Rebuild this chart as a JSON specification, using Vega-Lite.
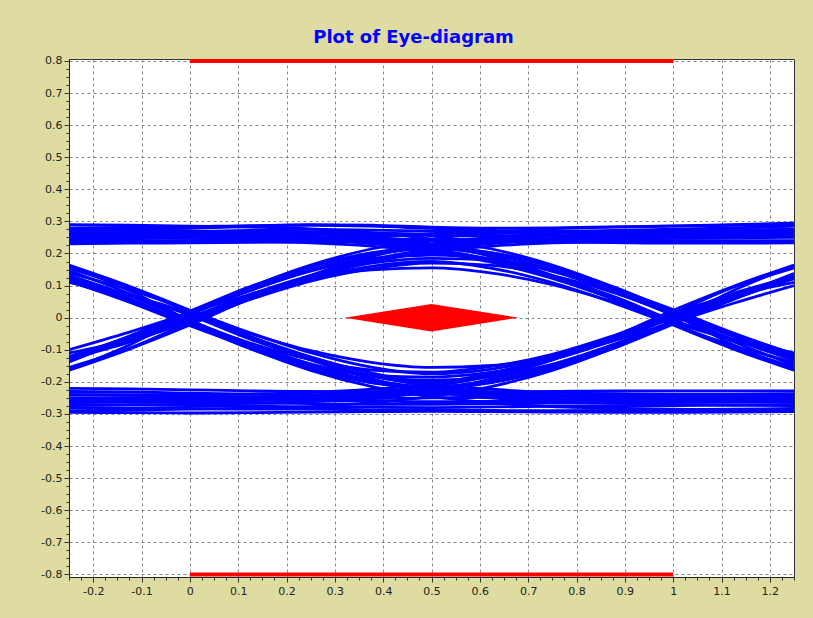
{
"$schema": "https://vega.github.io/schema/vega-lite/v6.json",
"width": 725, "height": 518,
"autosize": "none",
"padding": {"left": 69, "top": 59, "right": 19, "bottom": 41},
"background": "#DEDCA0",
"title": {"text": "Plot of Eye-diagram", "fontSize": 18, "fontWeight": "bold", "color": "#0000FF", "font": "DejaVu Sans", "offset": 8, "dx": -18},
"config": {
  "view": {"fill": "#FFFFFF", "stroke": "#333333", "strokeWidth": 1},
  "axis": {"labelFont": "DejaVu Sans", "labelFontSize": 11, "labelColor": "#222222", "domainColor": "#222222", "tickColor": "#333333", "gridColor": "#8a8a8a", "gridDash": [3, 3], "gridWidth": 1, "title": null}
},
"datasets": {
"traces": [
{"s":"h1","x":-0.25,"y":0.235},{"s":"h1","x":-0.125,"y":0.237},{"s":"h1","x":0,"y":0.24},{"s":"h1","x":0.125,"y":0.242},{"s":"h1","x":0.25,"y":0.243},{"s":"h1","x":0.375,"y":0.244},{"s":"h1","x":0.5,"y":0.245},{"s":"h1","x":0.625,"y":0.244},{"s":"h1","x":0.75,"y":0.243},{"s":"h1","x":0.875,"y":0.242},{"s":"h1","x":1,"y":0.24},{"s":"h1","x":1.125,"y":0.238},{"s":"h1","x":1.25,"y":0.236},
{"s":"h2","x":-0.25,"y":0.25},{"s":"h2","x":-0.125,"y":0.252},{"s":"h2","x":0,"y":0.255},{"s":"h2","x":0.125,"y":0.258},{"s":"h2","x":0.25,"y":0.26},{"s":"h2","x":0.375,"y":0.259},{"s":"h2","x":0.5,"y":0.256},{"s":"h2","x":0.625,"y":0.255},{"s":"h2","x":0.75,"y":0.255},{"s":"h2","x":0.875,"y":0.256},{"s":"h2","x":1,"y":0.258},{"s":"h2","x":1.125,"y":0.259},{"s":"h2","x":1.25,"y":0.26},
{"s":"h3","x":-0.25,"y":0.265},{"s":"h3","x":-0.125,"y":0.266},{"s":"h3","x":0,"y":0.268},{"s":"h3","x":0.125,"y":0.272},{"s":"h3","x":0.25,"y":0.275},{"s":"h3","x":0.375,"y":0.273},{"s":"h3","x":0.5,"y":0.27},{"s":"h3","x":0.625,"y":0.268},{"s":"h3","x":0.75,"y":0.268},{"s":"h3","x":0.875,"y":0.27},{"s":"h3","x":1,"y":0.272},{"s":"h3","x":1.125,"y":0.274},{"s":"h3","x":1.25,"y":0.275},
{"s":"h4","x":-0.25,"y":0.272},{"s":"h4","x":-0.125,"y":0.274},{"s":"h4","x":0,"y":0.278},{"s":"h4","x":0.125,"y":0.285},{"s":"h4","x":0.25,"y":0.29},{"s":"h4","x":0.375,"y":0.288},{"s":"h4","x":0.5,"y":0.282},{"s":"h4","x":0.625,"y":0.279},{"s":"h4","x":0.75,"y":0.28},{"s":"h4","x":0.875,"y":0.283},{"s":"h4","x":1,"y":0.286},{"s":"h4","x":1.125,"y":0.29},{"s":"h4","x":1.25,"y":0.295},
{"s":"h5","x":-0.25,"y":0.245},{"s":"h5","x":-0.125,"y":0.246},{"s":"h5","x":0,"y":0.25},{"s":"h5","x":0.125,"y":0.25},{"s":"h5","x":0.25,"y":0.248},{"s":"h5","x":0.375,"y":0.25},{"s":"h5","x":0.5,"y":0.262},{"s":"h5","x":0.625,"y":0.268},{"s":"h5","x":0.75,"y":0.27},{"s":"h5","x":0.875,"y":0.268},{"s":"h5","x":1,"y":0.265},{"s":"h5","x":1.125,"y":0.262},{"s":"h5","x":1.25,"y":0.26},
{"s":"h6","x":-0.25,"y":0.23},{"s":"h6","x":-0.125,"y":0.232},{"s":"h6","x":0,"y":0.233},{"s":"h6","x":0.125,"y":0.235},{"s":"h6","x":0.25,"y":0.236},{"s":"h6","x":0.375,"y":0.238},{"s":"h6","x":0.5,"y":0.24},{"s":"h6","x":0.625,"y":0.238},{"s":"h6","x":0.75,"y":0.236},{"s":"h6","x":0.875,"y":0.234},{"s":"h6","x":1,"y":0.232},{"s":"h6","x":1.125,"y":0.232},{"s":"h6","x":1.25,"y":0.233},
{"s":"h7","x":-0.25,"y":0.28},{"s":"h7","x":-0.125,"y":0.281},{"s":"h7","x":0,"y":0.283},{"s":"h7","x":0.125,"y":0.287},{"s":"h7","x":0.25,"y":0.288},{"s":"h7","x":0.375,"y":0.285},{"s":"h7","x":0.5,"y":0.278},{"s":"h7","x":0.625,"y":0.272},{"s":"h7","x":0.75,"y":0.27},{"s":"h7","x":0.875,"y":0.272},{"s":"h7","x":1,"y":0.276},{"s":"h7","x":1.125,"y":0.28},{"s":"h7","x":1.25,"y":0.285},
{"s":"h8","x":-0.25,"y":0.258},{"s":"h8","x":-0.125,"y":0.26},{"s":"h8","x":0,"y":0.262},{"s":"h8","x":0.125,"y":0.265},{"s":"h8","x":0.25,"y":0.267},{"s":"h8","x":0.375,"y":0.264},{"s":"h8","x":0.5,"y":0.26},{"s":"h8","x":0.625,"y":0.262},{"s":"h8","x":0.75,"y":0.265},{"s":"h8","x":0.875,"y":0.266},{"s":"h8","x":1,"y":0.265},{"s":"h8","x":1.125,"y":0.266},{"s":"h8","x":1.25,"y":0.268},
{"s":"l1","x":-0.25,"y":-0.22},{"s":"l1","x":-0.125,"y":-0.222},{"s":"l1","x":0,"y":-0.225},{"s":"l1","x":0.125,"y":-0.228},{"s":"l1","x":0.25,"y":-0.23},{"s":"l1","x":0.375,"y":-0.232},{"s":"l1","x":0.5,"y":-0.233},{"s":"l1","x":0.625,"y":-0.232},{"s":"l1","x":0.75,"y":-0.23},{"s":"l1","x":0.875,"y":-0.228},{"s":"l1","x":1,"y":-0.228},{"s":"l1","x":1.125,"y":-0.228},{"s":"l1","x":1.25,"y":-0.228},
{"s":"l2","x":-0.25,"y":-0.24},{"s":"l2","x":-0.125,"y":-0.242},{"s":"l2","x":0,"y":-0.245},{"s":"l2","x":0.125,"y":-0.248},{"s":"l2","x":0.25,"y":-0.25},{"s":"l2","x":0.375,"y":-0.252},{"s":"l2","x":0.5,"y":-0.25},{"s":"l2","x":0.625,"y":-0.248},{"s":"l2","x":0.75,"y":-0.246},{"s":"l2","x":0.875,"y":-0.245},{"s":"l2","x":1,"y":-0.245},{"s":"l2","x":1.125,"y":-0.246},{"s":"l2","x":1.25,"y":-0.247},
{"s":"l3","x":-0.25,"y":-0.26},{"s":"l3","x":-0.125,"y":-0.262},{"s":"l3","x":0,"y":-0.265},{"s":"l3","x":0.125,"y":-0.266},{"s":"l3","x":0.25,"y":-0.268},{"s":"l3","x":0.375,"y":-0.27},{"s":"l3","x":0.5,"y":-0.27},{"s":"l3","x":0.625,"y":-0.268},{"s":"l3","x":0.75,"y":-0.266},{"s":"l3","x":0.875,"y":-0.264},{"s":"l3","x":1,"y":-0.262},{"s":"l3","x":1.125,"y":-0.262},{"s":"l3","x":1.25,"y":-0.263},
{"s":"l4","x":-0.25,"y":-0.28},{"s":"l4","x":-0.125,"y":-0.282},{"s":"l4","x":0,"y":-0.283},{"s":"l4","x":0.125,"y":-0.285},{"s":"l4","x":0.25,"y":-0.285},{"s":"l4","x":0.375,"y":-0.287},{"s":"l4","x":0.5,"y":-0.288},{"s":"l4","x":0.625,"y":-0.289},{"s":"l4","x":0.75,"y":-0.29},{"s":"l4","x":0.875,"y":-0.289},{"s":"l4","x":1,"y":-0.287},{"s":"l4","x":1.125,"y":-0.285},{"s":"l4","x":1.25,"y":-0.283},
{"s":"l5","x":-0.25,"y":-0.295},{"s":"l5","x":-0.125,"y":-0.296},{"s":"l5","x":0,"y":-0.297},{"s":"l5","x":0.125,"y":-0.296},{"s":"l5","x":0.25,"y":-0.294},{"s":"l5","x":0.375,"y":-0.293},{"s":"l5","x":0.5,"y":-0.292},{"s":"l5","x":0.625,"y":-0.293},{"s":"l5","x":0.75,"y":-0.294},{"s":"l5","x":0.875,"y":-0.295},{"s":"l5","x":1,"y":-0.295},{"s":"l5","x":1.125,"y":-0.294},{"s":"l5","x":1.25,"y":-0.293},
{"s":"l6","x":-0.25,"y":-0.23},{"s":"l6","x":-0.125,"y":-0.231},{"s":"l6","x":0,"y":-0.235},{"s":"l6","x":0.125,"y":-0.238},{"s":"l6","x":0.25,"y":-0.24},{"s":"l6","x":0.375,"y":-0.24},{"s":"l6","x":0.5,"y":-0.238},{"s":"l6","x":0.625,"y":-0.236},{"s":"l6","x":0.75,"y":-0.236},{"s":"l6","x":0.875,"y":-0.237},{"s":"l6","x":1,"y":-0.238},{"s":"l6","x":1.125,"y":-0.238},{"s":"l6","x":1.25,"y":-0.237},
{"s":"l7","x":-0.25,"y":-0.25},{"s":"l7","x":-0.125,"y":-0.252},{"s":"l7","x":0,"y":-0.255},{"s":"l7","x":0.125,"y":-0.256},{"s":"l7","x":0.25,"y":-0.258},{"s":"l7","x":0.375,"y":-0.26},{"s":"l7","x":0.5,"y":-0.262},{"s":"l7","x":0.625,"y":-0.26},{"s":"l7","x":0.75,"y":-0.257},{"s":"l7","x":0.875,"y":-0.255},{"s":"l7","x":1,"y":-0.254},{"s":"l7","x":1.125,"y":-0.254},{"s":"l7","x":1.25,"y":-0.255},
{"s":"l8","x":-0.25,"y":-0.27},{"s":"l8","x":-0.125,"y":-0.272},{"s":"l8","x":0,"y":-0.274},{"s":"l8","x":0.125,"y":-0.276},{"s":"l8","x":0.25,"y":-0.278},{"s":"l8","x":0.375,"y":-0.279},{"s":"l8","x":0.5,"y":-0.28},{"s":"l8","x":0.625,"y":-0.278},{"s":"l8","x":0.75,"y":-0.276},{"s":"l8","x":0.875,"y":-0.275},{"s":"l8","x":1,"y":-0.274},{"s":"l8","x":1.125,"y":-0.273},{"s":"l8","x":1.25,"y":-0.272},
{"s":"u1","x":-0.25,"y":-0.1},{"s":"u1","x":-0.125,"y":-0.045},{"s":"u1","x":0,"y":0.015},{"s":"u1","x":0.125,"y":0.073},{"s":"u1","x":0.25,"y":0.12},{"s":"u1","x":0.375,"y":0.149},{"s":"u1","x":0.5,"y":0.155},{"s":"u1","x":0.625,"y":0.139},{"s":"u1","x":0.75,"y":0.103},{"s":"u1","x":0.875,"y":0.05},{"s":"u1","x":1,"y":-0.01},{"s":"u1","x":1.125,"y":-0.068},{"s":"u1","x":1.25,"y":-0.117},
{"s":"u2","x":-0.25,"y":-0.128},{"s":"u2","x":-0.125,"y":-0.076},{"s":"u2","x":0,"y":-0.009},{"s":"u2","x":0.125,"y":0.057},{"s":"u2","x":0.25,"y":0.114},{"s":"u2","x":0.375,"y":0.152},{"s":"u2","x":0.5,"y":0.17},{"s":"u2","x":0.625,"y":0.163},{"s":"u2","x":0.75,"y":0.131},{"s":"u2","x":0.875,"y":0.079},{"s":"u2","x":1,"y":0.012},{"s":"u2","x":1.125,"y":-0.054},{"s":"u2","x":1.25,"y":-0.112},
{"s":"u3","x":-0.25,"y":-0.128},{"s":"u3","x":-0.125,"y":-0.066},{"s":"u3","x":0,"y":0.001},{"s":"u3","x":0.125,"y":0.072},{"s":"u3","x":0.25,"y":0.131},{"s":"u3","x":0.375,"y":0.17},{"s":"u3","x":0.5,"y":0.185},{"s":"u3","x":0.625,"y":0.18},{"s":"u3","x":0.75,"y":0.148},{"s":"u3","x":0.875,"y":0.092},{"s":"u3","x":1,"y":0.025},{"s":"u3","x":1.125,"y":-0.048},{"s":"u3","x":1.25,"y":-0.114},
{"s":"u4","x":-0.25,"y":-0.155},{"s":"u4","x":-0.125,"y":-0.095},{"s":"u4","x":0,"y":-0.014},{"s":"u4","x":0.125,"y":0.062},{"s":"u4","x":0.25,"y":0.131},{"s":"u4","x":0.375,"y":0.178},{"s":"u4","x":0.5,"y":0.2},{"s":"u4","x":0.625,"y":0.179},{"s":"u4","x":0.75,"y":0.131},{"s":"u4","x":0.875,"y":0.063},{"s":"u4","x":1,"y":-0.019},{"s":"u4","x":1.125,"y":-0.093},{"s":"u4","x":1.25,"y":-0.154},
{"s":"u5","x":-0.25,"y":-0.138},{"s":"u5","x":-0.125,"y":-0.064},{"s":"u5","x":0,"y":0.014},{"s":"u5","x":0.125,"y":0.093},{"s":"u5","x":0.25,"y":0.159},{"s":"u5","x":0.375,"y":0.201},{"s":"u5","x":0.5,"y":0.215},{"s":"u5","x":0.625,"y":0.202},{"s":"u5","x":0.75,"y":0.159},{"s":"u5","x":0.875,"y":0.09},{"s":"u5","x":1,"y":0.008},{"s":"u5","x":1.125,"y":-0.075},{"s":"u5","x":1.25,"y":-0.147},
{"s":"u6","x":-0.25,"y":-0.128},{"s":"u6","x":-0.125,"y":-0.072},{"s":"u6","x":0,"y":-0.005},{"s":"u6","x":0.125,"y":0.062},{"s":"u6","x":0.25,"y":0.121},{"s":"u6","x":0.375,"y":0.16},{"s":"u6","x":0.5,"y":0.175},{"s":"u6","x":0.625,"y":0.154},{"s":"u6","x":0.75,"y":0.109},{"s":"u6","x":0.875,"y":0.047},{"s":"u6","x":1,"y":-0.022},{"s":"u6","x":1.125,"y":-0.087},{"s":"u6","x":1.25,"y":-0.139},
{"s":"u7","x":-0.25,"y":-0.131},{"s":"u7","x":-0.125,"y":-0.066},{"s":"u7","x":0,"y":0.01},{"s":"u7","x":0.125,"y":0.084},{"s":"u7","x":0.25,"y":0.145},{"s":"u7","x":0.375,"y":0.184},{"s":"u7","x":0.5,"y":0.195},{"s":"u7","x":0.625,"y":0.183},{"s":"u7","x":0.75,"y":0.144},{"s":"u7","x":0.875,"y":0.082},{"s":"u7","x":1,"y":0.008},{"s":"u7","x":1.125,"y":-0.068},{"s":"u7","x":1.25,"y":-0.132},
{"s":"d1","x":-0.25,"y":0.114},{"s":"d1","x":-0.125,"y":0.048},{"s":"d1","x":0,"y":-0.025},{"s":"d1","x":0.125,"y":-0.092},{"s":"d1","x":0.25,"y":-0.148},{"s":"d1","x":0.375,"y":-0.18},{"s":"d1","x":0.5,"y":-0.185},{"s":"d1","x":0.625,"y":-0.17},{"s":"d1","x":0.75,"y":-0.131},{"s":"d1","x":0.875,"y":-0.072},{"s":"d1","x":1,"y":-0.001},{"s":"d1","x":1.125,"y":0.066},{"s":"d1","x":1.25,"y":0.128},
{"s":"d2","x":-0.25,"y":0.147},{"s":"d2","x":-0.125,"y":0.075},{"s":"d2","x":0,"y":-0.008},{"s":"d2","x":0.125,"y":-0.09},{"s":"d2","x":0.25,"y":-0.159},{"s":"d2","x":0.375,"y":-0.202},{"s":"d2","x":0.5,"y":-0.215},{"s":"d2","x":0.625,"y":-0.201},{"s":"d2","x":0.75,"y":-0.159},{"s":"d2","x":0.875,"y":-0.093},{"s":"d2","x":1,"y":-0.014},{"s":"d2","x":1.125,"y":0.064},{"s":"d2","x":1.25,"y":0.138},
{"s":"d3","x":-0.25,"y":0.117},{"s":"d3","x":-0.125,"y":0.068},{"s":"d3","x":0,"y":0.01},{"s":"d3","x":0.125,"y":-0.05},{"s":"d3","x":0.25,"y":-0.103},{"s":"d3","x":0.375,"y":-0.139},{"s":"d3","x":0.5,"y":-0.155},{"s":"d3","x":0.625,"y":-0.149},{"s":"d3","x":0.75,"y":-0.12},{"s":"d3","x":0.875,"y":-0.073},{"s":"d3","x":1,"y":-0.015},{"s":"d3","x":1.125,"y":0.045},{"s":"d3","x":1.25,"y":0.1},
{"s":"d4","x":-0.25,"y":0.139},{"s":"d4","x":-0.125,"y":0.087},{"s":"d4","x":0,"y":0.022},{"s":"d4","x":0.125,"y":-0.047},{"s":"d4","x":0.25,"y":-0.109},{"s":"d4","x":0.375,"y":-0.154},{"s":"d4","x":0.5,"y":-0.175},{"s":"d4","x":0.625,"y":-0.16},{"s":"d4","x":0.75,"y":-0.121},{"s":"d4","x":0.875,"y":-0.062},{"s":"d4","x":1,"y":0.005},{"s":"d4","x":1.125,"y":0.072},{"s":"d4","x":1.25,"y":0.128},
{"s":"d5","x":-0.25,"y":0.112},{"s":"d5","x":-0.125,"y":0.054},{"s":"d5","x":0,"y":-0.012},{"s":"d5","x":0.125,"y":-0.079},{"s":"d5","x":0.25,"y":-0.131},{"s":"d5","x":0.375,"y":-0.163},{"s":"d5","x":0.5,"y":-0.17},{"s":"d5","x":0.625,"y":-0.152},{"s":"d5","x":0.75,"y":-0.114},{"s":"d5","x":0.875,"y":-0.057},{"s":"d5","x":1,"y":0.009},{"s":"d5","x":1.125,"y":0.076},{"s":"d5","x":1.25,"y":0.128},
{"s":"d6","x":-0.25,"y":0.132},{"s":"d6","x":-0.125,"y":0.068},{"s":"d6","x":0,"y":-0.008},{"s":"d6","x":0.125,"y":-0.082},{"s":"d6","x":0.25,"y":-0.144},{"s":"d6","x":0.375,"y":-0.183},{"s":"d6","x":0.5,"y":-0.195},{"s":"d6","x":0.625,"y":-0.184},{"s":"d6","x":0.75,"y":-0.145},{"s":"d6","x":0.875,"y":-0.084},{"s":"d6","x":1,"y":-0.01},{"s":"d6","x":1.125,"y":0.066},{"s":"d6","x":1.25,"y":0.131},
{"s":"d7","x":-0.25,"y":0.154},{"s":"d7","x":-0.125,"y":0.093},{"s":"d7","x":0,"y":0.019},{"s":"d7","x":0.125,"y":-0.063},{"s":"d7","x":0.25,"y":-0.131},{"s":"d7","x":0.375,"y":-0.179},{"s":"d7","x":0.5,"y":-0.2},{"s":"d7","x":0.625,"y":-0.178},{"s":"d7","x":0.75,"y":-0.131},{"s":"d7","x":0.875,"y":-0.062},{"s":"d7","x":1,"y":0.014},{"s":"d7","x":1.125,"y":0.095},{"s":"d7","x":1.25,"y":0.155},
{"s":"r1","x":-0.25,"y":-0.11},{"s":"r1","x":-0.125,"y":-0.069},{"s":"r1","x":0,"y":-0.015},{"s":"r1","x":0.125,"y":0.058},{"s":"r1","x":0.25,"y":0.122},{"s":"r1","x":0.375,"y":0.172},{"s":"r1","x":0.5,"y":0.206},{"s":"r1","x":0.625,"y":0.223},{"s":"r1","x":0.75,"y":0.233},{"s":"r1","x":0.875,"y":0.238},{"s":"r1","x":1,"y":0.24},{"s":"r1","x":1.125,"y":0.24},{"s":"r1","x":1.25,"y":0.24},
{"s":"r2","x":-0.25,"y":-0.122},{"s":"r2","x":-0.125,"y":-0.059},{"s":"r2","x":0,"y":0.016},{"s":"r2","x":0.125,"y":0.091},{"s":"r2","x":0.25,"y":0.15},{"s":"r2","x":0.375,"y":0.195},{"s":"r2","x":0.5,"y":0.219},{"s":"r2","x":0.625,"y":0.237},{"s":"r2","x":0.75,"y":0.247},{"s":"r2","x":0.875,"y":0.252},{"s":"r2","x":1,"y":0.255},{"s":"r2","x":1.125,"y":0.256},{"s":"r2","x":1.25,"y":0.256},
{"s":"r3","x":-0.25,"y":-0.164},{"s":"r3","x":-0.125,"y":-0.098},{"s":"r3","x":0,"y":-0.023},{"s":"r3","x":0.125,"y":0.06},{"s":"r3","x":0.25,"y":0.132},{"s":"r3","x":0.375,"y":0.19},{"s":"r3","x":0.5,"y":0.23},{"s":"r3","x":0.625,"y":0.25},{"s":"r3","x":0.75,"y":0.262},{"s":"r3","x":0.875,"y":0.267},{"s":"r3","x":1,"y":0.27},{"s":"r3","x":1.125,"y":0.272},{"s":"r3","x":1.25,"y":0.274},
{"s":"r4","x":-0.25,"y":-0.162},{"s":"r4","x":-0.125,"y":-0.085},{"s":"r4","x":0,"y":0.01},{"s":"r4","x":0.125,"y":0.095},{"s":"r4","x":0.25,"y":0.164},{"s":"r4","x":0.375,"y":0.214},{"s":"r4","x":0.5,"y":0.245},{"s":"r4","x":0.625,"y":0.265},{"s":"r4","x":0.75,"y":0.277},{"s":"r4","x":0.875,"y":0.282},{"s":"r4","x":1,"y":0.285},{"s":"r4","x":1.125,"y":0.288},{"s":"r4","x":1.25,"y":0.29},
{"s":"r5","x":-0.25,"y":-0.126},{"s":"r5","x":-0.125,"y":-0.057},{"s":"r5","x":0,"y":0.02},{"s":"r5","x":0.125,"y":0.097},{"s":"r5","x":0.25,"y":0.158},{"s":"r5","x":0.375,"y":0.202},{"s":"r5","x":0.5,"y":0.225},{"s":"r5","x":0.625,"y":0.244},{"s":"r5","x":0.75,"y":0.254},{"s":"r5","x":0.875,"y":0.259},{"s":"r5","x":1,"y":0.262},{"s":"r5","x":1.125,"y":0.263},{"s":"r5","x":1.25,"y":0.264},
{"s":"r6","x":-0.25,"y":-0.121},{"s":"r6","x":-0.125,"y":-0.069},{"s":"r6","x":0,"y":-0.008},{"s":"r6","x":0.125,"y":0.067},{"s":"r6","x":0.25,"y":0.13},{"s":"r6","x":0.375,"y":0.181},{"s":"r6","x":0.5,"y":0.213},{"s":"r6","x":0.625,"y":0.231},{"s":"r6","x":0.75,"y":0.241},{"s":"r6","x":0.875,"y":0.246},{"s":"r6","x":1,"y":0.248},{"s":"r6","x":1.125,"y":0.249},{"s":"r6","x":1.25,"y":0.25},
{"s":"f1","x":-0.25,"y":0.274},{"s":"f1","x":-0.125,"y":0.272},{"s":"f1","x":0,"y":0.27},{"s":"f1","x":0.125,"y":0.267},{"s":"f1","x":0.25,"y":0.262},{"s":"f1","x":0.375,"y":0.25},{"s":"f1","x":0.5,"y":0.23},{"s":"f1","x":0.625,"y":0.19},{"s":"f1","x":0.75,"y":0.132},{"s":"f1","x":0.875,"y":0.06},{"s":"f1","x":1,"y":-0.023},{"s":"f1","x":1.125,"y":-0.098},{"s":"f1","x":1.25,"y":-0.164},
{"s":"f2","x":-0.25,"y":0.24},{"s":"f2","x":-0.125,"y":0.24},{"s":"f2","x":0,"y":0.24},{"s":"f2","x":0.125,"y":0.238},{"s":"f2","x":0.25,"y":0.233},{"s":"f2","x":0.375,"y":0.223},{"s":"f2","x":0.5,"y":0.206},{"s":"f2","x":0.625,"y":0.172},{"s":"f2","x":0.75,"y":0.122},{"s":"f2","x":0.875,"y":0.058},{"s":"f2","x":1,"y":-0.015},{"s":"f2","x":1.125,"y":-0.069},{"s":"f2","x":1.25,"y":-0.11},
{"s":"f3","x":-0.25,"y":0.264},{"s":"f3","x":-0.125,"y":0.263},{"s":"f3","x":0,"y":0.262},{"s":"f3","x":0.125,"y":0.259},{"s":"f3","x":0.25,"y":0.254},{"s":"f3","x":0.375,"y":0.244},{"s":"f3","x":0.5,"y":0.225},{"s":"f3","x":0.625,"y":0.202},{"s":"f3","x":0.75,"y":0.158},{"s":"f3","x":0.875,"y":0.097},{"s":"f3","x":1,"y":0.02},{"s":"f3","x":1.125,"y":-0.057},{"s":"f3","x":1.25,"y":-0.126},
{"s":"f4","x":-0.25,"y":0.256},{"s":"f4","x":-0.125,"y":0.256},{"s":"f4","x":0,"y":0.255},{"s":"f4","x":0.125,"y":0.252},{"s":"f4","x":0.25,"y":0.247},{"s":"f4","x":0.375,"y":0.237},{"s":"f4","x":0.5,"y":0.219},{"s":"f4","x":0.625,"y":0.195},{"s":"f4","x":0.75,"y":0.15},{"s":"f4","x":0.875,"y":0.091},{"s":"f4","x":1,"y":0.016},{"s":"f4","x":1.125,"y":-0.059},{"s":"f4","x":1.25,"y":-0.122},
{"s":"f5","x":-0.25,"y":0.25},{"s":"f5","x":-0.125,"y":0.249},{"s":"f5","x":0,"y":0.248},{"s":"f5","x":0.125,"y":0.246},{"s":"f5","x":0.25,"y":0.241},{"s":"f5","x":0.375,"y":0.231},{"s":"f5","x":0.5,"y":0.213},{"s":"f5","x":0.625,"y":0.181},{"s":"f5","x":0.75,"y":0.13},{"s":"f5","x":0.875,"y":0.067},{"s":"f5","x":1,"y":-0.008},{"s":"f5","x":1.125,"y":-0.069},{"s":"f5","x":1.25,"y":-0.121},
{"s":"f6","x":-0.25,"y":0.29},{"s":"f6","x":-0.125,"y":0.288},{"s":"f6","x":0,"y":0.285},{"s":"f6","x":0.125,"y":0.282},{"s":"f6","x":0.25,"y":0.277},{"s":"f6","x":0.375,"y":0.265},{"s":"f6","x":0.5,"y":0.245},{"s":"f6","x":0.625,"y":0.214},{"s":"f6","x":0.75,"y":0.164},{"s":"f6","x":0.875,"y":0.095},{"s":"f6","x":1,"y":0.01},{"s":"f6","x":1.125,"y":-0.085},{"s":"f6","x":1.25,"y":-0.162},
{"s":"g1","x":-0.25,"y":0.122},{"s":"g1","x":-0.125,"y":0.059},{"s":"g1","x":0,"y":-0.016},{"s":"g1","x":0.125,"y":-0.091},{"s":"g1","x":0.25,"y":-0.15},{"s":"g1","x":0.375,"y":-0.195},{"s":"g1","x":0.5,"y":-0.219},{"s":"g1","x":0.625,"y":-0.237},{"s":"g1","x":0.75,"y":-0.247},{"s":"g1","x":0.875,"y":-0.252},{"s":"g1","x":1,"y":-0.255},{"s":"g1","x":1.125,"y":-0.256},{"s":"g1","x":1.25,"y":-0.256},
{"s":"g2","x":-0.25,"y":0.162},{"s":"g2","x":-0.125,"y":0.085},{"s":"g2","x":0,"y":-0.01},{"s":"g2","x":0.125,"y":-0.095},{"s":"g2","x":0.25,"y":-0.164},{"s":"g2","x":0.375,"y":-0.214},{"s":"g2","x":0.5,"y":-0.245},{"s":"g2","x":0.625,"y":-0.265},{"s":"g2","x":0.75,"y":-0.277},{"s":"g2","x":0.875,"y":-0.282},{"s":"g2","x":1,"y":-0.285},{"s":"g2","x":1.125,"y":-0.288},{"s":"g2","x":1.25,"y":-0.29},
{"s":"g3","x":-0.25,"y":0.121},{"s":"g3","x":-0.125,"y":0.069},{"s":"g3","x":0,"y":0.008},{"s":"g3","x":0.125,"y":-0.067},{"s":"g3","x":0.25,"y":-0.13},{"s":"g3","x":0.375,"y":-0.181},{"s":"g3","x":0.5,"y":-0.213},{"s":"g3","x":0.625,"y":-0.231},{"s":"g3","x":0.75,"y":-0.241},{"s":"g3","x":0.875,"y":-0.246},{"s":"g3","x":1,"y":-0.248},{"s":"g3","x":1.125,"y":-0.249},{"s":"g3","x":1.25,"y":-0.25},
{"s":"g4","x":-0.25,"y":0.11},{"s":"g4","x":-0.125,"y":0.069},{"s":"g4","x":0,"y":0.015},{"s":"g4","x":0.125,"y":-0.058},{"s":"g4","x":0.25,"y":-0.122},{"s":"g4","x":0.375,"y":-0.172},{"s":"g4","x":0.5,"y":-0.206},{"s":"g4","x":0.625,"y":-0.223},{"s":"g4","x":0.75,"y":-0.233},{"s":"g4","x":0.875,"y":-0.238},{"s":"g4","x":1,"y":-0.24},{"s":"g4","x":1.125,"y":-0.24},{"s":"g4","x":1.25,"y":-0.24},
{"s":"g5","x":-0.25,"y":0.164},{"s":"g5","x":-0.125,"y":0.098},{"s":"g5","x":0,"y":0.023},{"s":"g5","x":0.125,"y":-0.06},{"s":"g5","x":0.25,"y":-0.132},{"s":"g5","x":0.375,"y":-0.19},{"s":"g5","x":0.5,"y":-0.23},{"s":"g5","x":0.625,"y":-0.25},{"s":"g5","x":0.75,"y":-0.262},{"s":"g5","x":0.875,"y":-0.267},{"s":"g5","x":1,"y":-0.27},{"s":"g5","x":1.125,"y":-0.272},{"s":"g5","x":1.25,"y":-0.274},
{"s":"g6","x":-0.25,"y":0.126},{"s":"g6","x":-0.125,"y":0.057},{"s":"g6","x":0,"y":-0.02},{"s":"g6","x":0.125,"y":-0.097},{"s":"g6","x":0.25,"y":-0.158},{"s":"g6","x":0.375,"y":-0.202},{"s":"g6","x":0.5,"y":-0.225},{"s":"g6","x":0.625,"y":-0.244},{"s":"g6","x":0.75,"y":-0.254},{"s":"g6","x":0.875,"y":-0.259},{"s":"g6","x":1,"y":-0.262},{"s":"g6","x":1.125,"y":-0.263},{"s":"g6","x":1.25,"y":-0.264},
{"s":"k1","x":-0.25,"y":-0.256},{"s":"k1","x":-0.125,"y":-0.256},{"s":"k1","x":0,"y":-0.255},{"s":"k1","x":0.125,"y":-0.252},{"s":"k1","x":0.25,"y":-0.247},{"s":"k1","x":0.375,"y":-0.237},{"s":"k1","x":0.5,"y":-0.219},{"s":"k1","x":0.625,"y":-0.195},{"s":"k1","x":0.75,"y":-0.15},{"s":"k1","x":0.875,"y":-0.091},{"s":"k1","x":1,"y":-0.016},{"s":"k1","x":1.125,"y":0.059},{"s":"k1","x":1.25,"y":0.122},
{"s":"k2","x":-0.25,"y":-0.29},{"s":"k2","x":-0.125,"y":-0.288},{"s":"k2","x":0,"y":-0.285},{"s":"k2","x":0.125,"y":-0.282},{"s":"k2","x":0.25,"y":-0.277},{"s":"k2","x":0.375,"y":-0.265},{"s":"k2","x":0.5,"y":-0.245},{"s":"k2","x":0.625,"y":-0.214},{"s":"k2","x":0.75,"y":-0.164},{"s":"k2","x":0.875,"y":-0.095},{"s":"k2","x":1,"y":-0.01},{"s":"k2","x":1.125,"y":0.085},{"s":"k2","x":1.25,"y":0.162},
{"s":"k3","x":-0.25,"y":-0.274},{"s":"k3","x":-0.125,"y":-0.272},{"s":"k3","x":0,"y":-0.27},{"s":"k3","x":0.125,"y":-0.267},{"s":"k3","x":0.25,"y":-0.262},{"s":"k3","x":0.375,"y":-0.25},{"s":"k3","x":0.5,"y":-0.23},{"s":"k3","x":0.625,"y":-0.19},{"s":"k3","x":0.75,"y":-0.132},{"s":"k3","x":0.875,"y":-0.06},{"s":"k3","x":1,"y":0.023},{"s":"k3","x":1.125,"y":0.098},{"s":"k3","x":1.25,"y":0.164},
{"s":"k4","x":-0.25,"y":-0.24},{"s":"k4","x":-0.125,"y":-0.24},{"s":"k4","x":0,"y":-0.24},{"s":"k4","x":0.125,"y":-0.238},{"s":"k4","x":0.25,"y":-0.233},{"s":"k4","x":0.375,"y":-0.223},{"s":"k4","x":0.5,"y":-0.206},{"s":"k4","x":0.625,"y":-0.172},{"s":"k4","x":0.75,"y":-0.122},{"s":"k4","x":0.875,"y":-0.058},{"s":"k4","x":1,"y":0.015},{"s":"k4","x":1.125,"y":0.069},{"s":"k4","x":1.25,"y":0.11},
{"s":"k5","x":-0.25,"y":-0.25},{"s":"k5","x":-0.125,"y":-0.249},{"s":"k5","x":0,"y":-0.248},{"s":"k5","x":0.125,"y":-0.246},{"s":"k5","x":0.25,"y":-0.241},{"s":"k5","x":0.375,"y":-0.231},{"s":"k5","x":0.5,"y":-0.213},{"s":"k5","x":0.625,"y":-0.181},{"s":"k5","x":0.75,"y":-0.13},{"s":"k5","x":0.875,"y":-0.067},{"s":"k5","x":1,"y":0.008},{"s":"k5","x":1.125,"y":0.069},{"s":"k5","x":1.25,"y":0.121},
{"s":"k6","x":-0.25,"y":-0.264},{"s":"k6","x":-0.125,"y":-0.263},{"s":"k6","x":0,"y":-0.262},{"s":"k6","x":0.125,"y":-0.259},{"s":"k6","x":0.25,"y":-0.254},{"s":"k6","x":0.375,"y":-0.244},{"s":"k6","x":0.5,"y":-0.225},{"s":"k6","x":0.625,"y":-0.202},{"s":"k6","x":0.75,"y":-0.158},{"s":"k6","x":0.875,"y":-0.097},{"s":"k6","x":1,"y":-0.02},{"s":"k6","x":1.125,"y":0.057},{"s":"k6","x":1.25,"y":0.126}
],
"diamond": [
{"x":0.32,"y":0,"y2":0},{"x":0.5,"y":0.043,"y2":-0.043},{"x":0.68,"y":0,"y2":0}
],
"limits": [
{"x":0,"x2":1,"y":0.8},{"x":0,"x2":1,"y":-0.8}
]
},
"layer": [
{
 "data": {"name": "traces"},
 "mark": {"type": "line", "color": "#0000FF", "strokeWidth": 2.8, "interpolate": "monotone", "clip": true},
 "encoding": {
  "x": {"field": "x", "type": "quantitative", "scale": {"domain": [-0.25, 1.25], "nice": false, "zero": false},
        "axis": {"orient": "bottom", "values": [-0.2,-0.1,0,0.1,0.2,0.3,0.4,0.5,0.6,0.7,0.8,0.9,1,1.1,1.2], "grid": true, "tickSize": 5, "labelPadding": 3, "labelExpr": "'' + datum.value", "title": null}},
  "y": {"field": "y", "type": "quantitative", "scale": {"domain": [-0.808, 0.806], "nice": false, "zero": false},
        "axis": {"orient": "left", "values": [-0.8,-0.7,-0.6,-0.5,-0.4,-0.3,-0.2,-0.1,0,0.1,0.2,0.3,0.4,0.5,0.6,0.7,0.8], "grid": true, "tickSize": 5, "labelPadding": 2, "labelExpr": "'' + datum.value", "title": null}},
  "detail": {"field": "s"}
 }
},
{
 "data": {"name": "diamond"},
 "mark": {"type": "area", "color": "#FF0000", "opacity": 1, "interpolate": "linear"},
 "encoding": {
  "x": {"field": "x", "type": "quantitative", "scale": {"domain": [-0.25, 1.25], "nice": false, "zero": false}, "axis": null},
  "y": {"field": "y", "type": "quantitative", "scale": {"domain": [-0.808, 0.806], "nice": false, "zero": false}, "axis": null},
  "y2": {"field": "y2"}
 }
},
{
 "data": {"name": "limits"},
 "mark": {"type": "rule", "color": "#FF0000", "strokeWidth": 4},
 "encoding": {
  "x": {"field": "x", "type": "quantitative", "scale": {"domain": [-0.25, 1.25], "nice": false, "zero": false},
        "axis": {"orient": "bottom", "values": [-0.25,-0.225,-0.2,-0.175,-0.15,-0.125,-0.1,-0.075,-0.05,-0.025,0,0.025,0.05,0.075,0.1,0.125,0.15,0.175,0.2,0.225,0.25,0.275,0.3,0.325,0.35,0.375,0.4,0.425,0.45,0.475,0.5,0.525,0.55,0.575,0.6,0.625,0.65,0.675,0.7,0.725,0.75,0.775,0.8,0.825,0.85,0.875,0.9,0.925,0.95,0.975,1,1.025,1.05,1.075,1.1,1.125,1.15,1.175,1.2,1.225,1.25], "grid": false, "labels": false, "domain": false, "tickSize": 3, "title": null}},
  "x2": {"field": "x2"},
  "y": {"field": "y", "type": "quantitative", "scale": {"domain": [-0.808, 0.806], "nice": false, "zero": false},
        "axis": {"orient": "left", "values": [-0.8,-0.775,-0.75,-0.725,-0.7,-0.675,-0.65,-0.625,-0.6,-0.575,-0.55,-0.525,-0.5,-0.475,-0.45,-0.425,-0.4,-0.375,-0.35,-0.325,-0.3,-0.275,-0.25,-0.225,-0.2,-0.175,-0.15,-0.125,-0.1,-0.075,-0.05,-0.025,0,0.025,0.05,0.075,0.1,0.125,0.15,0.175,0.2,0.225,0.25,0.275,0.3,0.325,0.35,0.375,0.4,0.425,0.45,0.475,0.5,0.525,0.55,0.575,0.6,0.625,0.65,0.675,0.7,0.725,0.75,0.775,0.8], "grid": false, "labels": false, "domain": false, "tickSize": 3, "title": null}}
 }
}
],
"resolve": {"axis": {"x": "independent", "y": "independent"}}
}
